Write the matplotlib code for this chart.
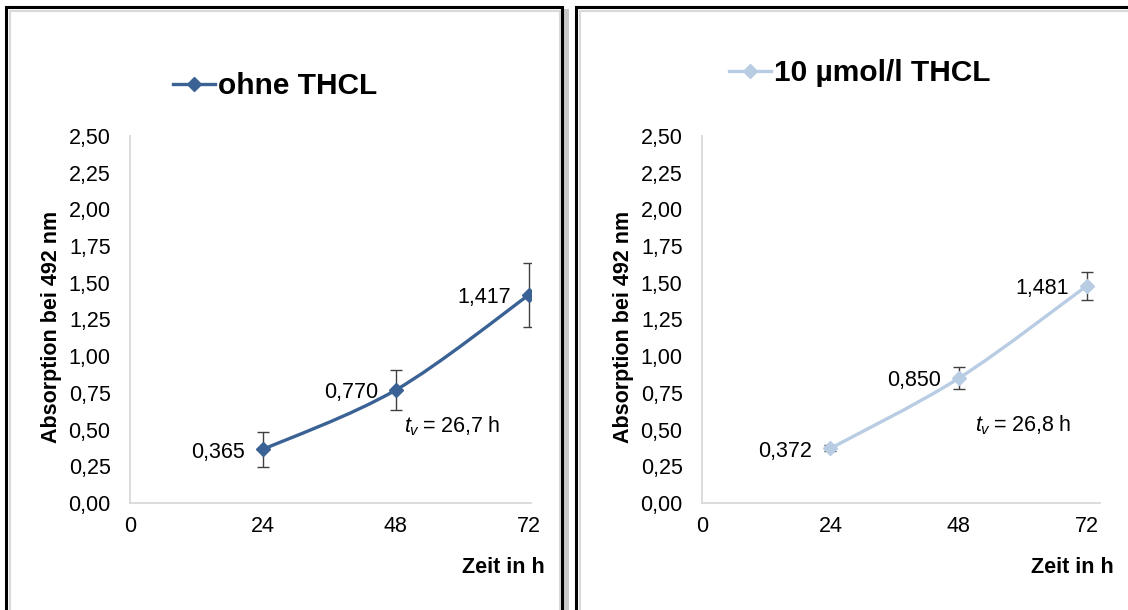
# Wachstumskurven ohne / mit 10 µmol/l THCL (Absorption bei 492 nm)
import matplotlib.pyplot as plt
from matplotlib.path import Path
from matplotlib.patches import PathPatch, Rectangle
from matplotlib.lines import Line2D
from matplotlib.ticker import FuncFormatter

plt.rcParams['font.family'] = ['Liberation Sans', 'DejaVu Sans']
plt.rcParams['mathtext.fontset'] = 'custom'
plt.rcParams['mathtext.it'] = 'Liberation Sans:italic'
plt.rcParams['mathtext.rm'] = 'Liberation Sans'

# Daten
zeit = [24, 48, 72]
ohne_mw = [0.365, 0.770, 1.417]
ohne_sd = [0.12, 0.135, 0.215]
thcl_mw = [0.372, 0.850, 1.481]
thcl_sd = [0.02, 0.075, 0.095]
ohne_tv = '26,7'
thcl_tv = '26,8'
x_ticks = [0, 24, 48, 72]
y_ticks = [0, 0.25, 0.5, 0.75, 1.0, 1.25, 1.5, 1.75, 2.0, 2.25, 2.5]

dunkelblau = '#3b6294'
hellblau = '#b8cce4'


def smooth_path(x, y):
    # Excel-artige geglaettete Linie (Catmull-Rom als Bezier)
    pts = list(zip(x, y))
    verts = [pts[0]]
    codes = [Path.MOVETO]
    n = len(pts)
    for i in range(n - 1):
        p0 = pts[i - 1] if i > 0 else pts[i]
        p1 = pts[i]
        p2 = pts[i + 1]
        p3 = pts[i + 2] if i + 2 < n else pts[i + 1]
        c1 = (p1[0] + (p2[0] - p0[0]) / 6, p1[1] + (p2[1] - p0[1]) / 6)
        c2 = (p2[0] - (p3[0] - p1[0]) / 6, p2[1] - (p3[1] - p1[1]) / 6)
        verts += [c1, c2, p2]
        codes += [Path.CURVE4] * 3
    return Path(verts, codes)


def panel(ax, mw, sd, farbe, tv, tv_pos, xmax):
    ax.errorbar(zeit, mw, yerr=sd, fmt='none', ecolor='#404040', elinewidth=1,
                capsize=4, capthick=1, zorder=2)
    ax.add_patch(PathPatch(smooth_path(zeit, mw), facecolor='none', edgecolor=farbe,
                           lw=2.4, zorder=3, capstyle='round'))
    ax.plot(zeit, mw, ls='none', marker='D', ms=7.5, color=farbe, zorder=4)
    for x, y in zip(zeit, mw):
        ax.annotate(('%.3f' % y).replace('.', ','), (x, y), xytext=(-13, -2),
                    textcoords='offset points', ha='right', va='center', fontsize=15.5)
    ax.text(tv_pos[0], tv_pos[1], r'$\mathit{t}_\mathit{v}$' + '\u2009= ' + tv + '\u2009h',
            fontsize=15.5, ha='left', va='center')
    ax.set_xlim(0, xmax)
    ax.set_ylim(0, 2.5)
    ax.set_xticks(x_ticks)
    ax.set_yticks(y_ticks)
    ax.yaxis.set_major_formatter(FuncFormatter(lambda v, p: ('%.2f' % v).replace('.', ',')))
    ax.tick_params(length=0, labelsize=15.5)
    ax.tick_params(axis='y', pad=14)
    ax.tick_params(axis='x', pad=9)
    for s in ['top', 'right']:
        ax.spines[s].set_visible(False)
    for s in ['left', 'bottom']:
        ax.spines[s].set_color('#d9d9d9')
        ax.spines[s].set_linewidth(1.3)
    ax.set_ylabel('Absorption bei 492 nm', fontsize=15.5, fontweight='bold')
    ax.yaxis.set_label_coords(-0.17, 0.48)
    ax.set_xlabel('Zeit in h', fontsize=15.5, fontweight='bold', ha='right')
    ax.xaxis.set_label_coords(1.035, -0.148)


fig = plt.figure(figsize=(11.28, 6.10), dpi=100)
W, H = 1128.0, 610.0

ax1 = fig.add_axes([130 / W, 1 - 503 / H, 401 / W, 367 / H])
ax2 = fig.add_axes([702 / W, 1 - 503 / H, 398 / W, 367 / H])

panel(ax1, ohne_mw, ohne_sd, dunkelblau, ohne_tv, (49.5, 0.52), 72.4)
panel(ax2, thcl_mw, thcl_sd, hellblau, thcl_tv, (51, 0.53), 74.4)

# Legenden oben
h1 = Line2D([], [], color=dunkelblau, lw=2.4, marker='D', ms=7)
h2 = Line2D([], [], color=hellblau, lw=2.4, marker='D', ms=7)
fig.legend([h1], ['ohne THCL'], loc='center', bbox_to_anchor=(275 / W, 1 - 86 / H),
           frameon=False, prop={'size': 21.5, 'weight': 'bold'},
           handlelength=1.4, handletextpad=0.1)
fig.legend([h2], ['10 µmol/l THCL'], loc='center', bbox_to_anchor=(860 / W, 1 - 73 / H),
           frameon=False, prop={'size': 21.5, 'weight': 'bold'},
           handlelength=1.4, handletextpad=0.1)

# Rahmen der beiden Diagramme
for x0, x1 in [(6, 562), (576, 1140)]:
    fig.add_artist(Rectangle(((x0 + 4) / W, -0.05), (x1 - x0 - 6) / W, (H - 11) / H + 0.05,
                             transform=fig.transFigure, fill=False,
                             edgecolor='#d9d9d9', lw=1.5, zorder=0))
    fig.add_artist(Rectangle((x1 / W, -0.05), 7 / W, (H - 9) / H + 0.05,
                             transform=fig.transFigure, facecolor='#c8c8c8',
                             edgecolor='none', zorder=0))
    fig.add_artist(Rectangle((x0 / W, -0.05), (x1 - x0) / W, (H - 7) / H + 0.05,
                             transform=fig.transFigure, fill=False,
                             edgecolor='black', lw=2.2, zorder=1))

fig.savefig('out.png', dpi=100)
